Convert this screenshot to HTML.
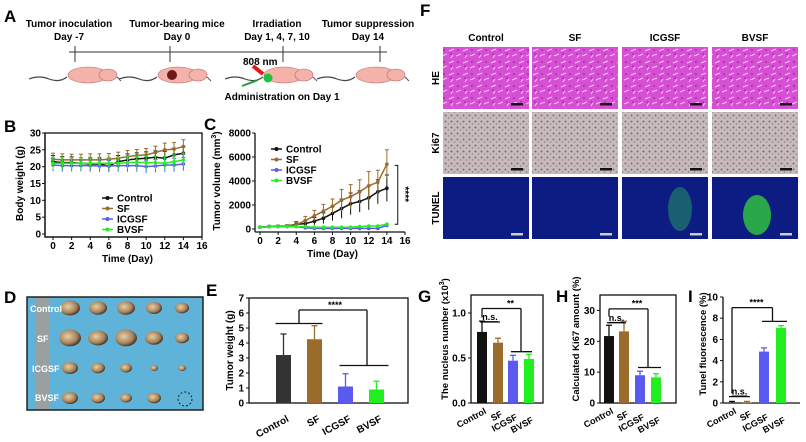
<!DOCTYPE html>
<html><head><meta charset="utf-8">
<style>
html,body{margin:0;padding:0;background:#fff;}
svg{display:block;font-family:"Liberation Sans",Arial,sans-serif;font-weight:bold;}
</style></head>
<body>
<svg id="fig" width="806" height="442" viewBox="0 0 806 442" xmlns="http://www.w3.org/2000/svg">
<defs>
  <pattern id="heTex" width="14" height="12" patternUnits="userSpaceOnUse">
    <rect width="14" height="12" fill="#d64fd4"/>
    <path d="M1 3 L6 1 M8 8 L13 6 M3 10 L5 7" stroke="#f3c8f0" stroke-width="1"/>
    <circle cx="10" cy="2" r="1" fill="#a82aa8"/><circle cx="3" cy="6" r="1" fill="#b030b0"/>
  </pattern>
  <pattern id="kiTex" width="6" height="6" patternUnits="userSpaceOnUse">
    <rect width="6" height="6" fill="#c7bcbb"/>
    <circle cx="1.5" cy="1.5" r="1" fill="#7d6a70"/><circle cx="4.5" cy="4" r="0.9" fill="#9a8a8e"/>
  </pattern>
  <radialGradient id="tumorG" cx="0.4" cy="0.4" r="0.6">
    <stop offset="0" stop-color="#e6cfa8"/><stop offset="0.7" stop-color="#a7835a"/><stop offset="1" stop-color="#4a3a30"/>
  </radialGradient>
</defs>

<!-- Panel A -->
<g>
  <text x="4" y="22" font-size="17">A</text>
  <g font-size="10" text-anchor="middle">
    <text x="69" y="27">Tumor inoculation</text><text x="69" y="40">Day -7</text>
    <text x="177" y="27">Tumor-bearing mice</text><text x="177" y="40">Day 0</text>
    <text x="277" y="27">Irradiation</text><text x="277" y="40">Day 1, 4, 7, 10</text>
    <text x="368" y="27">Tumor suppression</text><text x="368" y="40">Day 14</text>
  </g>
  <g stroke="#333" stroke-width="1">
    <line x1="69" y1="52" x2="387" y2="52"/>
    <line x1="75" y1="46" x2="75" y2="62"/><line x1="170" y1="46" x2="170" y2="62"/>
    <line x1="283" y1="46" x2="283" y2="62"/><line x1="380" y1="46" x2="380" y2="62"/>
  </g>
  <g id="mice"></g>
  <text x="243" y="65" font-size="10">808 nm</text>
  <line x1="253" y1="66" x2="263" y2="74" stroke="#e01818" stroke-width="4"/>
  <line x1="242" y1="86" x2="258" y2="80" stroke="#2a9a4a" stroke-width="2"/>
  <circle cx="268" cy="78" r="4.5" fill="#1ec040"/>
  <text x="282" y="100" font-size="10" text-anchor="middle">Administration on Day 1</text>
</g>

<!-- Panel F -->
<g>
  <text x="420" y="16" font-size="17">F</text>
  <g id="histo"></g>
</g>

<g id="charts"></g>

<!-- Panel D photo -->
<g>
  <text x="4" y="303" font-size="17">D</text>
  <rect x="27" y="297" width="176" height="113" fill="#5fb2d8" stroke="#222" stroke-width="1.5"/>
  <rect x="35" y="298" width="15" height="111" fill="#9aa0a0"/>
  <g id="tumors"></g>
  <g fill="#fff" font-size="9">
    <text x="30" y="312">Control</text><text x="37" y="342">SF</text>
    <text x="32" y="372">ICGSF</text><text x="35" y="401">BVSF</text>
  </g>
  <circle cx="185" cy="399" r="7" fill="none" stroke="#222" stroke-dasharray="2,2"/>
</g>
</svg>

<script>
// ===== Data =====
const days = [0,1,2,3,4,5,6,7,8,9,10,11,12,13,14];
const groups = ["Control","SF","ICGSF","BVSF"];
const bodyControl = [21.5,21.2,21.2,21,20.8,20.8,20.2,21.5,22,22.3,22.5,22.8,22.5,23.5,24];
const bodySF = [22.2,22,22,22,22,22,22.2,22.5,23,23.3,23.5,24.2,25,25.2,26];
const bodyICGSF = [20.5,20.3,20.3,20.3,20.3,20.2,20.2,20.3,20.3,20.3,20,20.2,20.5,20.5,20.8];
const bodyBVSF = [21,21,21,21,21,21,21,21,21.2,21.3,21.2,21.2,21,21.5,22];
const bodyErr = [1.8,1.8,1.7,1.7,1.8,1.8,1.7,1.8,1.8,1.8,1.9,1.9,2,2,2];
const volControl = [150,200,230,250,400,450,650,900,1300,1700,2100,2300,2600,3100,3400];
const volSF = [150,200,230,250,350,700,1100,1500,1900,2400,2700,3100,3600,3900,5400];
const volICGSF = [150,200,200,200,200,100,50,50,50,50,50,50,50,50,300];
const volBVSF = [150,180,200,220,200,200,150,150,150,150,150,200,250,250,400];
const volErrControl = [50,60,80,100,200,250,300,450,600,800,900,900,1000,1000,1100];
const volErrSF = [50,60,80,100,200,350,450,550,600,900,1000,1000,1200,1000,1200];
const weightMean = [3.2,4.25,1.1,0.9];
const weightErr = [1.4,0.9,0.85,0.55];
const nucleusMean = [0.79,0.67,0.47,0.49];
const nucleusErr = [0.12,0.05,0.06,0.05];
const ki67Mean = [21.7,23.2,9,8.3];
const ki67Err = [3.5,3.3,1.3,1.2];
const tunelMean = [0.05,0.05,4.85,7.1];
const tunelErr = [0.1,0.1,0.35,0.2];
const bTicks = [0,5,10,15,20,25,30];
const cTicks = [0,2000,4000,6000,8000];
const xTicks = [0,2,4,6,8,10,12,14,16];

const NS="http://www.w3.org/2000/svg";
const colors = ["#111","#9b6b2c","#5a5af0","#22ee22"];
function mk(tag, attrs, parent, text){
  const e=document.createElementNS(NS,tag);
  for(const k in attrs) e.setAttribute(k,attrs[k]);
  if(text!==undefined) e.textContent=text;
  parent.appendChild(e); return e;
}
const charts=document.getElementById('charts');

// ===== mice =====
const mice=document.getElementById('mice');
[[67,88],[157,178],[263,284],[355,376]].forEach((m,i)=>{
  const g=mk('g',{},mice);
  
  
  mk('path',{d:`M${m[0]-38} 79 q10 -4 20 0 t18 -2`,stroke:"#444","stroke-width":1.2,fill:"none"},g);
  mk('ellipse',{cx:m[1],cy:75,rx:20,ry:8,fill:"#f4b2ab",stroke:"#b86a66","stroke-width":0.6},g);
  mk('ellipse',{cx:m[1]+20,cy:75,rx:9,ry:6,fill:"#f4b2ab",stroke:"#b86a66","stroke-width":0.6},g);
  mk('line',{x1:m[1]+29,y1:77,x2:m[1]+33,y2:81,stroke:"#555"},g);
  if(i===1) mk('ellipse',{cx:m[1]-6,cy:75,rx:5,ry:5,fill:"#6b1a1a"},g);
});

// ===== histology =====
const histo=document.getElementById('histo');
const colX=[443,532,622,712], rowY=[47,112,177], cw=86, rh=62;
const rowNames=["HE","Ki67","TUNEL"];
groups.forEach((gname,c)=>{
  const t=mk('text',{x:colX[c]+cw/2,y:41,"font-size":10,"text-anchor":"middle"},histo,gname);
  
  
});
rowNames.forEach((rn,r)=>{
  const t=mk('text',{x:0,y:0,"font-size":10,"text-anchor":"middle",transform:`translate(439,${rowY[r]+rh/2}) rotate(-90)`},histo,rn);
  
  
  groups.forEach((gname,c)=>{
    const fill = r===0?"url(#heTex)":r===1?"url(#kiTex)":"#0c1c82";
    const im=mk('rect',{x:colX[c],y:rowY[r],width:cw,height:rh,fill:fill},histo);
    
    
    if(r===2 && c===2){mk('ellipse',{cx:colX[c]+58,cy:rowY[r]+32,rx:12,ry:22,fill:"#1f7a6a",opacity:0.7},histo);}
    if(r===2 && c===3){mk('ellipse',{cx:colX[c]+45,cy:rowY[r]+38,rx:14,ry:20,fill:"#30c040",opacity:0.85},histo);}
    mk('rect',{x:colX[c]+cw-18,y:rowY[r]+rh-6,width:12,height:2.5,fill:r===2?"#ccc":"#111"},histo);
  });
});

// ===== tumors photo =====
const tum=document.getElementById('tumors');
const tumorSizes=[[10,9,9,8,7],[11,10,11,9,7],[8,7,6,4,4],[8,7,6,7,0]];
tumorSizes.forEach((row,r)=>row.forEach((s,c)=>{
  if(!s) return;
  mk('ellipse',{cx:70+c*28,cy:308+r*30,rx:s,ry:s*0.75,fill:"url(#tumorG)"},tum);
}));

// ===== line charts =====
function lineChart(o){
  const g=mk('g',{},charts);
  
  
  const sx=v=>o.x0+(v-0)*(o.x1-o.x0)/16;
  const sy=v=>o.y0-(v-o.ymin)*(o.y0-o.y1)/(o.ymax-o.ymin);
  mk('text',{x:o.lx,y:o.ly,"font-size":17},g,o.label);
  if(o.box) mk('rect',{x:o.ax,y:sy(o.ymax),width:o.x1-o.ax,height:o.y0+3-sy(o.ymax),fill:"none",stroke:"#111","stroke-width":1.3},g);
  mk('line',{x1:o.ax,y1:sy(o.ymax),x2:o.ax,y2:o.y0+3,stroke:"#111","stroke-width":1.3},g);
  mk('line',{x1:o.ax,y1:o.y0+3,x2:o.x1,y2:o.y0+3,stroke:"#111","stroke-width":1.3},g);
  o.yt.forEach(v=>{
    mk('line',{x1:o.ax-3,y1:sy(v),x2:o.ax,y2:sy(v),stroke:"#111"},g);
    mk('text',{x:o.ax-4,y:sy(v)+3.5,"font-size":10,"text-anchor":"end"},g,String(v));
  });
  xTicks.forEach(v=>{
    mk('line',{x1:sx(v),y1:o.y0+3,x2:sx(v),y2:o.y0+6,stroke:"#111"},g);
    mk('text',{x:sx(v),y:o.y0+15,"font-size":10,"text-anchor":"middle"},g,String(v));
  });
  mk('text',{x:(o.x0+o.x1)/2,y:o.y0+28,"font-size":10,"text-anchor":"middle"},g,"Time (Day)");
  const yt=mk('text',{x:0,y:0,"font-size":10,"text-anchor":"middle",transform:`translate(${o.ax-o.tOff},${(o.y0+sy(o.ymax))/2}) rotate(-90)`},g);
  yt.innerHTML=o.ytitle;
  o.series.forEach((s,i)=>{
    const col=colors[i];
    const sg=mk('g',{},g);
    
    
    days.forEach((d,j)=>{
      if(o.err[i]) mk('line',{x1:sx(d),y1:sy(s[j]),x2:sx(d),y2:sy(s[j]+o.err[i][j]),stroke:col,"stroke-width":1},sg);
      if(o.err[i]) mk('line',{x1:sx(d)-2,y1:sy(s[j]+o.err[i][j]),x2:sx(d)+2,y2:sy(s[j]+o.err[i][j]),stroke:col},sg);
      if(o.errDown && o.err[i]) mk('line',{x1:sx(d),y1:sy(s[j]),x2:sx(d),y2:sy(s[j]-o.err[i][j]),stroke:col},sg);
    });
    mk('polyline',{points:days.map((d,j)=>sx(d)+","+sy(s[j])).join(" "),fill:"none",stroke:col,"stroke-width":1.5},sg);
    days.forEach((d,j)=>mk('circle',{cx:sx(d),cy:sy(s[j]),r:1.8,fill:col},sg));
    const ly=o.legY+i*10.5;
    mk('line',{x1:o.legX,y1:ly,x2:o.legX+11,y2:ly,stroke:col,"stroke-width":1.5},g);
    mk('circle',{cx:o.legX+5.5,cy:ly,r:2,fill:col},g);
    const lt=mk('text',{x:o.legX+15,y:ly+3.5,"font-size":10},g,groups[i]);
    
    
  });
  return {g,sx,sy};
}
lineChart({name:"body-weight-chart",label:"B",lx:4,ly:132,x0:53,x1:202,ax:45,y0:234,y1:133,ymin:0,ymax:30,box:true,
  yt:bTicks,ytitle:"Body weight (g)",tOff:22,series:[bodyControl,bodySF,bodyICGSF,bodyBVSF],
  err:[bodyErr,bodyErr,bodyErr,bodyErr],errDown:true,legX:102,legY:198});
const c=lineChart({name:"tumor-volume-chart",label:"C",lx:204,ly:130,x0:260,x1:405,ax:255,y0:229,y1:133,ymin:0,ymax:8000,box:false,
  yt:cTicks,ytitle:"Tumor volume (mm<tspan font-size='7' dy='-4'>3</tspan><tspan dy='4'>)</tspan>",tOff:35,
  series:[volControl,volSF,volICGSF,volBVSF],err:[volErrControl,volErrSF,null,null],errDown:true,legX:271,legY:149});
(function(){
  const x=c.sx(15.2);
  mk('path',{d:`M${x-3} ${c.sy(5300)} H${x} V${c.sy(400)} H${x-3}`,fill:"none",stroke:"#111"},c.g);
  mk('text',{x:0,y:0,"font-size":10,transform:`translate(${x+4},${c.sy(2900)}) rotate(90)`,"text-anchor":"middle"},c.g,"****");
})();

// ===== bar charts =====
function barChart(o){
  const g=mk('g',{},charts);
  
  
  const sy=v=>o.y0-v*(o.y0-o.y1)/o.ymax;
  mk('text',{x:o.lx,y:o.ly,"font-size":17},g,o.label);
  if(o.box) mk('rect',{x:o.ax,y:o.y1,width:o.x1-o.ax,height:o.y0-o.y1,fill:"none",stroke:"#111","stroke-width":1.3},g);
  else { mk('line',{x1:o.ax,y1:o.y1,x2:o.ax,y2:o.y0,stroke:"#111","stroke-width":1.3},g);
         mk('line',{x1:o.ax,y1:o.y0,x2:o.x1,y2:o.y0,stroke:"#111","stroke-width":1.3},g); }
  o.yt.forEach(v=>{
    mk('line',{x1:o.ax-3,y1:sy(v),x2:o.ax,y2:sy(v),stroke:"#111"},g);
    mk('text',{x:o.ax-5,y:sy(v)+3.5,"font-size":10,"text-anchor":"end"},g,o.fmt?o.fmt(v):String(v));
  });
  const yt=mk('text',{x:0,y:0,"font-size":o.tfs||10,"text-anchor":"middle",transform:`translate(${o.ax-o.tOff},${(o.y0+o.y1)/2+o.tShift}) rotate(-90)`},g);
  yt.innerHTML=o.ytitle;
  const cx=[];
  o.mean.forEach((m,i)=>{
    const x=o.bx[i], w=o.bw, xc=x+w/2; cx.push(xc);
    const col=(o.name==="tumor-weight-chart"&&i===0)?"#333":colors[i];
    const b=mk('rect',{x:x,y:sy(m),width:w,height:o.y0-sy(m),fill:col},g);
    
    
    mk('line',{x1:xc,y1:sy(m),x2:xc,y2:sy(m+o.err[i]),stroke:col,"stroke-width":1.3},g);
    mk('line',{x1:xc-3,y1:sy(m+o.err[i]),x2:xc+3,y2:sy(m+o.err[i]),stroke:col,"stroke-width":1.3},g);
    const lt=mk('text',{x:0,y:0,"font-size":o.lfs,"text-anchor":"end",transform:`translate(${xc+o.lOff},${o.y0+o.lDy+ (o.stagger?i*3:0)}) rotate(-28)`},g,groups[i]);
    
    
  });
  o.draw(g,sy,cx);
}
function line(g,x1,y1,x2,y2){mk('line',{x1,y1,x2,y2,stroke:"#111","stroke-width":1.3},g);}

barChart({name:"tumor-weight-chart",label:"E",lx:206,ly:296,ax:249,x1:408,y0:403,y1:298,ymax:7,box:true,
  yt:[0,1,2,3,4,5,6,7],ytitle:"Tumor weight (g)",tOff:16,tShift:0,mean:weightMean,err:weightErr,
  bx:[276,307,338,369],bw:15,lfs:10,lOff:6,lDy:18,stagger:false,
  draw:(g,sy,cx)=>{
    line(g,cx[0]-8,sy(5.3),cx[1]+8,sy(5.3));
    line(g,cx[2]-6,sy(2.5),cx[3]+12,sy(2.5));
    line(g,(cx[0]+cx[1])/2,sy(5.3),(cx[0]+cx[1])/2,sy(6.2));
    line(g,(cx[0]+cx[1])/2,sy(6.2),(cx[2]+cx[3])/2+6,sy(6.2));
    line(g,(cx[2]+cx[3])/2+6,sy(6.2),(cx[2]+cx[3])/2+6,sy(2.5));
    mk('text',{x:(cx[1]+cx[2])/2+5,y:sy(6.35),"font-size":9,"text-anchor":"middle"},g,"****");
  }});
barChart({name:"nucleus-number-chart",label:"G",lx:418,ly:302,ax:471,x1:543,y0:403,y1:295,ymax:1.2,box:true,
  yt:[0,0.5,1.0],fmt:v=>v.toFixed(1),ytitle:"The nucleus number (x10<tspan font-size='7' dy='-4'>3</tspan><tspan dy='4'>)</tspan>",tOff:23,tShift:-10,tfs:9.5,
  mean:nucleusMean,err:nucleusErr,bx:[477,493,508,524],bw:10,lfs:9,lOff:5,lDy:10,stagger:true,
  draw:(g,sy,cx)=>{
    line(g,cx[0]-2,sy(0.9),cx[1]+2,sy(0.9));
    mk('text',{x:(cx[0]+cx[1])/2,y:sy(0.92),"font-size":9,"text-anchor":"middle","text-decoration":"underline"},g,"n.s.");
    line(g,cx[0],sy(0.95),cx[0],sy(1.05)); line(g,cx[0],sy(1.05),cx[2]+8,sy(1.05));
    line(g,cx[2]+8,sy(1.05),cx[2]+8,sy(0.57)); line(g,cx[2]-2,sy(0.57),cx[3]+3,sy(0.57));
    mk('text',{x:(cx[1]+cx[2])/2+5,y:sy(1.07),"font-size":9,"text-anchor":"middle"},g,"**");
  }});
barChart({name:"ki67-chart",label:"H",lx:556,ly:302,ax:600,x1:676,y0:403,y1:295,ymax:35,box:true,
  yt:[0,10,20,30],ytitle:"Calculated Ki67 amount (%)",tOff:21,tShift:-10,tfs:9.5,
  mean:ki67Mean,err:ki67Err,bx:[604,619,635,651],bw:10,lfs:9,lOff:5,lDy:10,stagger:true,
  draw:(g,sy,cx)=>{
    line(g,cx[0]-2,sy(26),cx[1]+2,sy(26));
    mk('text',{x:(cx[0]+cx[1])/2,y:sy(26.6),"font-size":9,"text-anchor":"middle","text-decoration":"underline"},g,"n.s.");
    line(g,cx[0],sy(28),cx[0],sy(30.5)); line(g,cx[0],sy(30.5),cx[2]+8,sy(30.5));
    line(g,cx[2]+8,sy(30.5),cx[2]+8,sy(11.5)); line(g,cx[2]-2,sy(11.5),cx[3]+5,sy(11.5));
    mk('text',{x:(cx[1]+cx[2])/2+5,y:sy(31.2),"font-size":9,"text-anchor":"middle"},g,"***");
  }});
barChart({name:"tunel-chart",label:"I",lx:688,ly:302,ax:723,x1:800,y0:403,y1:297,ymax:10,box:false,
  yt:[0,2,4,6,8,10],ytitle:"Tunel fluorescence (%)",tOff:17,tShift:-6,tfs:9.5,
  mean:tunelMean,err:tunelErr,bx:[727,742,759,776],bw:10,lfs:9,lOff:5,lDy:10,stagger:true,
  draw:(g,sy,cx)=>{
    line(g,cx[0]-3,sy(0.6),cx[1]+3,sy(0.6));
    mk('text',{x:(cx[0]+cx[1])/2,y:sy(0.8),"font-size":9,"text-anchor":"middle","text-decoration":"underline"},g,"n.s.");
    line(g,cx[0],sy(0.9),cx[0],sy(9)); line(g,cx[0],sy(9),(cx[2]+cx[3])/2,sy(9));
    line(g,(cx[2]+cx[3])/2,sy(9),(cx[2]+cx[3])/2,sy(7.7)); line(g,cx[2]-2,sy(7.7),cx[3]+6,sy(7.7));
    mk('text',{x:(cx[0]+cx[3])/2,y:sy(9.2),"font-size":9,"text-anchor":"middle"},g,"****");
  }});
</script>
</body></html>
